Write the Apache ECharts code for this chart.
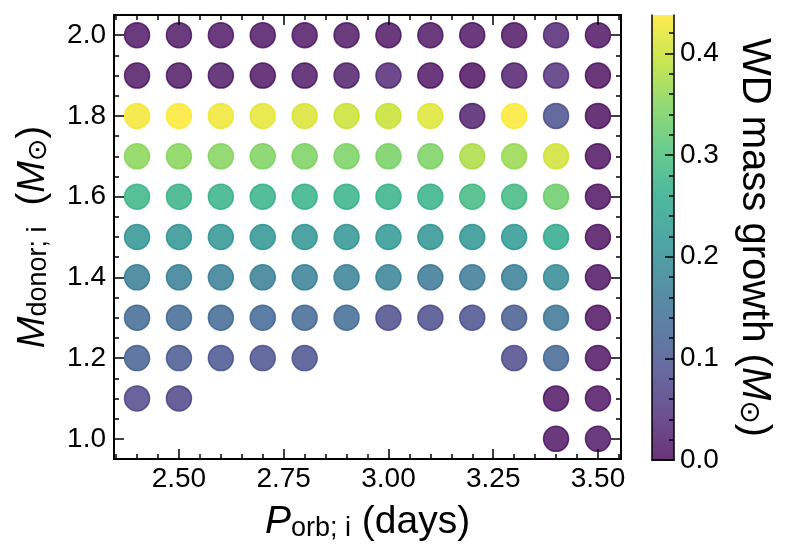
<!DOCTYPE html>
<html>
<head>
<meta charset="utf-8">
<script src="https://cdn.jsdelivr.net/npm/echarts@6/dist/echarts.min.js"></script>
<style>
html,body{margin:0;padding:0;background:#fff;}
#chart{width:790px;height:559px;}
</style>
</head>
<body>
<div id="chart"></div>
<script>
// ---- data ----
const periods = [2.4, 2.5, 2.6, 2.7, 2.8, 2.9, 3.0, 3.1, 3.2, 3.3, 3.4, 3.5];
const donorMasses = [2.0, 1.9, 1.8, 1.7, 1.6, 1.5, 1.4, 1.3, 1.2, 1.1, 1.0];
// WD mass growth (Msun), one row per donor mass (same order as donorMasses), null = no model
const growth_2_0 = [0.012, 0.012, 0.012, 0.012, 0.012, 0.012, 0.010, 0.012, 0.010, 0.010, 0.030, 0.008];
const growth_1_9 = [0.012, 0.012, 0.015, 0.010, 0.015, 0.020, 0.035, 0.010, 0.005, 0.022, 0.045, 0.006];
const growth_1_8 = [0.430, 0.437, 0.428, 0.420, 0.412, 0.400, 0.398, 0.415, 0.022, 0.436, 0.090, 0.005];
const growth_1_7 = [0.355, 0.352, 0.350, 0.346, 0.344, 0.342, 0.340, 0.342, 0.378, 0.365, 0.405, 0.006];
const growth_1_6 = [0.278, 0.274, 0.272, 0.272, 0.272, 0.272, 0.270, 0.272, 0.286, 0.286, 0.330, 0.006];
const growth_1_5 = [0.212, 0.212, 0.212, 0.212, 0.212, 0.215, 0.218, 0.212, 0.212, 0.218, 0.255, 0.006];
const growth_1_4 = [0.172, 0.172, 0.172, 0.172, 0.174, 0.176, 0.178, 0.158, 0.165, 0.172, 0.195, 0.008];
const growth_1_3 = [0.132, 0.132, 0.132, 0.130, 0.132, 0.135, 0.085, 0.085, 0.090, 0.110, 0.155, 0.006];
const growth_1_2 = [0.118, 0.105, 0.098, 0.092, 0.092, null, null, null, null, 0.082, 0.125, 0.008];
const growth_1_1 = [0.078, 0.074, null, null, null, null, null, null, null, null, 0.010, 0.010];
const growth_1_0 = [null, null, null, null, null, null, null, null, null, null, 0.010, 0.012];
const growthRows = [growth_2_0, growth_1_9, growth_1_8, growth_1_7, growth_1_6, growth_1_5,
                    growth_1_4, growth_1_3, growth_1_2, growth_1_1, growth_1_0];

const colorRange = [0, 0.4377];
const xTickLabels = [2.5, 2.75, 3.0, 3.25, 3.5];
const yTickLabels = [1.0, 1.2, 1.4, 1.6, 1.8, 2.0];
const cbTickLabels = [0.0, 0.1, 0.2, 0.3, 0.4];

const viridis = ['#440154', '#482475', '#414487', '#355f8d', '#2a788e', '#21918c',
                 '#22a884', '#44bf70', '#7ad151', '#bddf26', '#fde725'];

// ---- build ----
function steps(a, b, s) { const r = []; for (let v = a; v <= b + 1e-9; v += s) r.push(+v.toFixed(4)); return r; }
const xMinor = steps(2.35, 3.55, 0.05);
const yMinor = steps(0.95, 2.05, 0.05);
const cbMinor = steps(0, 0.42, 0.02);

const points = [];
donorMasses.forEach((m, i) => {
  growthRows[i].forEach((g, j) => {
    if (g === null) return;
    const c = echarts.color.lerp((g - colorRange[0]) / (colorRange[1] - colorRange[0]), viridis);
    points.push({ value: [periods[j], m, g], itemStyle: { color: c, borderColor: c } });
  });
});

const FONT = '"Liberation Sans", Arial, Helvetica, sans-serif';
const tickStyle = { color: '#000', width: 1.5 };

function xAxisDef(pos, ticks, len, labels) {
  return {
    type: 'value', gridIndex: 0, position: pos, min: 2.345, max: 3.555, z: 10,
    splitLine: { show: false }, axisLine: { show: false },
    axisTick: { show: true, inside: true, length: len, lineStyle: tickStyle, customValues: ticks },
    axisLabel: labels ? { show: true, customValues: ticks, margin: 6, color: '#000', fontSize: 28, fontFamily: FONT,
                          formatter: v => v.toFixed(2) } : { show: false }
  };
}
function yAxisDef(pos, ticks, len, labels) {
  return {
    type: 'value', gridIndex: 0, position: pos, min: 0.95, max: 2.05, z: 10,
    splitLine: { show: false }, axisLine: { show: false },
    axisTick: { show: true, inside: true, length: len, lineStyle: tickStyle, customValues: ticks },
    axisLabel: labels ? { show: true, customValues: ticks, margin: 8, color: '#000', fontSize: 28, fontFamily: FONT,
                          formatter: v => v.toFixed(1) } : { show: false }
  };
}

const xAxes = [
  xAxisDef('bottom', xTickLabels, 10, true),
  xAxisDef('bottom', xMinor, 5, false),
  xAxisDef('top', xTickLabels, 10, false),
  xAxisDef('top', xMinor, 5, false),
  { type: 'category', gridIndex: 1, data: ['cb'], position: 'bottom', z: 10,
    axisLine: { show: true, lineStyle: { color: '#000', width: 1.5 } }, axisTick: { show: false }, axisLabel: { show: false } },
  { type: 'category', gridIndex: 1, data: ['cb'], position: 'top', z: 10,
    axisLine: { show: true, lineStyle: { color: '#000', width: 1.5 } }, axisTick: { show: false }, axisLabel: { show: false } }
];
xAxes[0].name = '{p|P}{s|orb; i}{r| (days)}';
xAxes[0].nameLocation = 'middle';
xAxes[0].nameGap = 41;
xAxes[0].nameTextStyle = {
  color: '#000', fontFamily: FONT,
  rich: {
    p: { fontSize: 39, fontStyle: 'italic', fontFamily: FONT, lineHeight: 42, verticalAlign: 'bottom', color: '#000' },
    s: { fontSize: 27, fontFamily: FONT, lineHeight: 21, verticalAlign: 'bottom', color: '#000' },
    r: { fontSize: 39, fontFamily: FONT, lineHeight: 42, verticalAlign: 'bottom', color: '#000' }
  }
};

const yAxes = [
  yAxisDef('left', yTickLabels, 10, true),
  yAxisDef('left', yMinor, 5, false),
  yAxisDef('right', yTickLabels, 10, false),
  yAxisDef('right', yMinor, 5, false),
  { type: 'value', gridIndex: 1, position: 'right', min: colorRange[0], max: colorRange[1], z: 10,
    splitLine: { show: false },
    axisLine: { show: true, lineStyle: { color: '#000', width: 1.5 } },
    axisTick: { show: true, inside: true, length: 9, lineStyle: tickStyle, customValues: cbTickLabels },
    axisLabel: { show: true, customValues: cbTickLabels, margin: 6, color: '#000', fontSize: 28, fontFamily: FONT,
                 formatter: v => v.toFixed(1) },
    name: '{r|WD mass growth (}{m|M}{o|⊙}{r|)}', nameLocation: 'middle', nameRotate: -90, nameGap: 60,
    nameTextStyle: {
      color: '#000', fontFamily: FONT,
      rich: {
        r: { fontSize: 40, fontFamily: FONT, lineHeight: 42, verticalAlign: 'bottom', color: '#000' },
        m: { fontSize: 40, fontStyle: 'italic', fontFamily: FONT, lineHeight: 42, verticalAlign: 'bottom', color: '#000' },
        o: { fontSize: 28, fontFamily: '"DejaVu Sans", sans-serif', lineHeight: 21, verticalAlign: 'bottom', color: '#000' }
      }
    }
  },
  { type: 'value', gridIndex: 1, position: 'right', min: colorRange[0], max: colorRange[1], z: 10,
    splitLine: { show: false }, axisLine: { show: false },
    axisTick: { show: true, inside: true, length: 5, lineStyle: tickStyle, customValues: cbMinor },
    axisLabel: { show: false } },
  { type: 'value', gridIndex: 1, position: 'left', min: colorRange[0], max: colorRange[1], z: 10,
    splitLine: { show: false }, axisLine: { show: true, lineStyle: { color: '#000', width: 1.5 } },
    axisTick: { show: false }, axisLabel: { show: false } }
];
yAxes[0].name = '{m|M}{s|donor; i}{r|  (}{m|M}{o|⊙}{r|)}';
yAxes[0].nameLocation = 'middle';
yAxes[0].nameGap = 62;
yAxes[0].nameTextStyle = {
  color: '#000', fontFamily: FONT,
  rich: {
    m: { fontSize: 38, fontStyle: 'italic', fontFamily: FONT, lineHeight: 40, verticalAlign: 'bottom', color: '#000' },
    s: { fontSize: 27, fontFamily: FONT, lineHeight: 20, verticalAlign: 'bottom', color: '#000' },
    r: { fontSize: 38, fontFamily: FONT, lineHeight: 40, verticalAlign: 'bottom', color: '#000' },
    o: { fontSize: 27, fontFamily: '"DejaVu Sans", sans-serif', lineHeight: 20, verticalAlign: 'bottom', color: '#000' }
  }
};

const cbStops = viridis.map((c, i) => ({ offset: i / (viridis.length - 1), color: c }));

const chart = echarts.init(document.getElementById('chart'), null, { renderer: 'canvas' });
chart.setOption({
  animation: false,
  backgroundColor: '#fff',
  grid: [
    { left: 114, top: 15, width: 507, height: 444, show: true, borderColor: '#000', borderWidth: 2, backgroundColor: 'transparent' },
    { left: 652, top: 15, width: 22, height: 445, show: false }
  ],
  xAxis: xAxes,
  yAxis: yAxes,
  series: [
    {
      type: 'scatter', xAxisIndex: 0, yAxisIndex: 0, symbol: 'circle', symbolSize: 25,
      itemStyle: { opacity: 0.8, borderWidth: 1.5 },
      data: points, z: 2
    },
    {
      type: 'bar', xAxisIndex: 4, yAxisIndex: 4, barWidth: '100%',
      data: [colorRange[1]],
      itemStyle: { opacity: 0.8, color: new echarts.graphic.LinearGradient(0, 1, 0, 0, cbStops) },
      z: 2, silent: true
    }
  ]
});
</script>
</body>
</html>
